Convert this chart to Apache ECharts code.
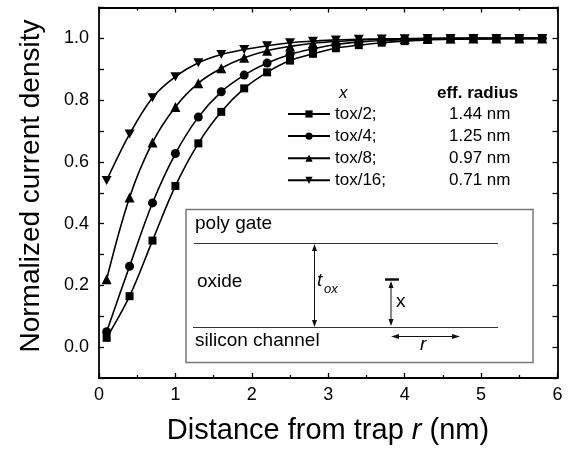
<!DOCTYPE html>
<html>
<head>
<meta charset="utf-8">
<script src="https://cdn.jsdelivr.net/npm/echarts@6/dist/echarts.min.js"></script>
<style>
html, body { margin: 0; padding: 0; background: #fff; }
#chart { width: 572px; height: 453px; }
</style>
</head>
<body>
<div id="chart"></div>
<script>
// distance from trap r (nm)
var rValues = [0.1, 0.4, 0.7, 1.0, 1.3, 1.6, 1.9, 2.2, 2.5, 2.8, 3.1, 3.4, 3.7, 4.0, 4.3, 4.6, 4.9, 5.2, 5.5, 5.8];
var tox2 = [0.03, 0.165, 0.345, 0.522, 0.66, 0.762, 0.838, 0.89, 0.928, 0.95, 0.968, 0.978, 0.986, 0.991, 0.995, 0.997, 0.998, 0.999, 1.0, 1.0];
var tox4 = [0.05, 0.262, 0.467, 0.627, 0.745, 0.827, 0.881, 0.92, 0.948, 0.966, 0.98, 0.988, 0.993, 0.996, 0.998, 0.999, 1.0, 1.0, 1.0, 1.0];
var tox8 = [0.22, 0.485, 0.663, 0.778, 0.855, 0.903, 0.937, 0.96, 0.974, 0.984, 0.99, 0.994, 0.997, 0.998, 0.999, 1.0, 1.0, 1.0, 1.0, 1.0];
var tox16 = [0.54, 0.69, 0.808, 0.876, 0.921, 0.948, 0.964, 0.976, 0.986, 0.991, 0.995, 0.997, 0.998, 0.999, 1.0, 1.0, 1.0, 1.0, 1.0, 1.0];
var seriesNames = ['tox/2', 'tox/4', 'tox/8', 'tox/16'];
var effRadius = ['1.44 nm', '1.25 nm', '0.97 nm', '0.71 nm'];
var xTicks = [0, 1, 2, 3, 4, 5, 6];

var FONT = 'Liberation Sans, Arial, sans-serif';

function pairs(ys) {
    var out = [];
    for (var i = 0; i < rValues.length; i++) {
        out.push([rValues[i], ys[i]]);
    }
    return out;
}

function makeSeries(name, ys, symbol, size) {
    return {
        name: name,
        type: 'line',
        data: pairs(ys),
        smooth: 0.35,
        symbol: symbol,
        symbolSize: size,
        showAllSymbol: true,
        lineStyle: { color: '#000', width: 1.6 },
        itemStyle: { color: '#000', borderWidth: 0 },
        emphasis: { disabled: true }
    };
}

// two-headed arrow helpers for the inset sketch
function arrowHead(x, y, dir) {
    var p;
    if (dir === 'up') p = [[x, y], [x - 2.5, y + 7], [x + 2.5, y + 7]];
    if (dir === 'down') p = [[x, y], [x - 2.5, y - 7], [x + 2.5, y - 7]];
    if (dir === 'left') p = [[x, y], [x + 8, y - 2.5], [x + 8, y + 2.5]];
    if (dir === 'right') p = [[x, y], [x - 8, y - 2.5], [x - 8, y + 2.5]];
    return { type: 'polygon', shape: { points: p }, style: { fill: '#111' } };
}
function segment(x1, y1, x2, y2, color, w) {
    return { type: 'line', shape: { x1: x1, y1: y1, x2: x2, y2: y2 }, style: { stroke: color, lineWidth: w } };
}
function label(txt, x, y, size, extra) {
    var st = { text: txt, x: x, y: y, font: size + 'px ' + FONT, fill: '#000', verticalAlign: 'middle' };
    if (extra) for (var k in extra) st[k] = extra[k];
    return { type: 'text', style: st };
}

var inset = [
    { type: 'rect', shape: { x: 186, y: 209.5, width: 347, height: 153 }, style: { fill: '#fff', stroke: '#777', lineWidth: 1.5 } },
    segment(194, 243.5, 498, 243.5, '#333', 1),
    segment(193, 327.5, 498, 327.5, '#333', 1),
    label('poly gate', 195, 224, 19),
    label('oxide', 197, 282, 19),
    label('silicon channel', 195, 341, 19),
    // t_ox arrow
    segment(314.5, 246, 314.5, 325, '#111', 1),
    arrowHead(314.5, 244, 'up'),
    arrowHead(314.5, 327, 'down'),
    label('t', 317, 281, 19, { font: 'italic 19px ' + FONT }),
    label('ox', 324, 289, 13, { font: 'italic 13px ' + FONT }),
    // x arrow with trap bar
    segment(385, 279.5, 399, 279.5, '#111', 2.5),
    segment(391, 283, 391, 324, '#111', 1),
    arrowHead(391, 281, 'up'),
    arrowHead(391, 326, 'down'),
    label('x', 396, 302, 19),
    // r arrow
    segment(393, 336.5, 458, 336.5, '#111', 1),
    arrowHead(391, 336.5, 'left'),
    arrowHead(460, 336.5, 'right'),
    label('r', 420, 345, 19, { font: 'italic 19px ' + FONT })
];

var titles = [
    label('Normalized current density', 0, 0, 28, { align: 'center' }),
    {
        type: 'text',
        style: {
            text: 'Distance from trap {i|r} (nm)',
            x: 328, y: 431,
            font: '29px ' + FONT,
            fill: '#000',
            align: 'center',
            verticalAlign: 'middle',
            rich: { i: { fontStyle: 'italic', fontSize: 29, fontFamily: FONT } }
        }
    },
    label('x', 339, 93, 17, { font: 'italic 17px ' + FONT }),
    label('eff. radius', 437, 93, 17, { font: 'bold 17px ' + FONT })
];
titles[0].x = 31;
titles[0].y = 186;
titles[0].rotation = Math.PI / 2;

var myChart = echarts.init(document.getElementById('chart'), null, { renderer: 'canvas' });

var axisLineStyle = { show: true, onZero: false, lineStyle: { color: '#000', width: 1.8 } };
var tickStyle = { color: '#000', width: 1.3 };

var option = {
    animation: false,
    backgroundColor: '#fff',
    grid: { left: 99, right: 14.5, top: 7.5, bottom: 75, containLabel: false },
    xAxis: [{
        type: 'value', position: 'bottom', min: xTicks[0], max: xTicks[xTicks.length - 1], interval: 1,
        axisLine: axisLineStyle,
        axisTick: { inside: true, length: 5, lineStyle: tickStyle },
        minorTick: { show: true, splitNumber: 2, length: 3, lineStyle: tickStyle },
        axisLabel: { margin: 8, fontSize: 18, fontFamily: FONT, color: '#000' },
        splitLine: { show: false }
    }, {
        type: 'value', position: 'top', min: xTicks[0], max: xTicks[xTicks.length - 1], interval: 1,
        axisLine: axisLineStyle,
        axisTick: { inside: true, length: 5, lineStyle: tickStyle },
        minorTick: { show: true, splitNumber: 2, length: 3, lineStyle: tickStyle },
        axisLabel: { show: false },
        splitLine: { show: false }
    }],
    yAxis: [{
        type: 'value', position: 'left', min: -0.1, max: 1.1, interval: 0.1,
        axisLine: axisLineStyle,
        axisTick: { inside: true, length: 5, lineStyle: tickStyle },
        axisLabel: {
            margin: 10, fontSize: 18, fontFamily: FONT, color: '#000',
            formatter: function (v) {
                var k = Math.round(v * 10);
                return (k % 2 === 0 && k >= 0 && k <= 10) ? (k / 10).toFixed(1) : '';
            }
        },
        splitLine: { show: false }
    }, {
        type: 'value', position: 'right', min: -0.1, max: 1.1, interval: 0.1,
        axisLine: axisLineStyle,
        axisTick: { inside: true, length: 5, lineStyle: tickStyle },
        axisLabel: { show: false },
        splitLine: { show: false }
    }],
    legend: {
        orient: 'vertical',
        left: 287,
        top: 105.5,
        padding: 0,
        itemWidth: 42,
        itemHeight: 9,
        itemGap: 5.1,
        data: seriesNames,
        formatter: function (name) {
            var idx = seriesNames.indexOf(name);
            return '{a|' + name + ';}{b|' + effRadius[idx] + '}';
        },
        textStyle: {
            fontSize: 17, fontFamily: FONT, color: '#000',
            rich: {
                a: { width: 114, fontSize: 17, fontFamily: FONT, color: '#000' },
                b: { fontSize: 17, fontFamily: FONT, color: '#000' }
            }
        },
        selectedMode: false
    },
    graphic: inset.concat(titles),
    series: [
        makeSeries(seriesNames[0], tox2, 'rect', 8),
        makeSeries(seriesNames[1], tox4, 'circle', 9),
        makeSeries(seriesNames[2], tox8, 'triangle', 10),
        makeSeries(seriesNames[3], tox16, 'path://M0,0L10,0L5,9Z', [10, 9])
    ]
};

myChart.setOption(option);
</script>
</body>
</html>
